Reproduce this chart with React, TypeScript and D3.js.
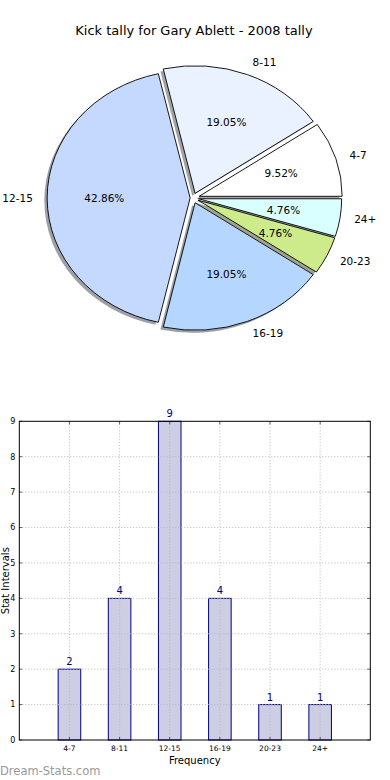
import React, { useEffect, useRef } from 'react';
import * as d3 from 'd3';

const categories = ['4-7', '8-11', '12-15', '16-19', '20-23', '24+'];
const counts = [2, 4, 9, 4, 1, 1];
const yTicks = [0, 1, 2, 3, 4, 5, 6, 7, 8, 9];
const title = 'Kick tally for Gary Ablett - 2008 tally';

const pieColors = ['#ffffff', '#eaf1ff', '#c5d9ff', '#b5d7ff', '#cdeb8b', '#daffff'];
const explode = [0.045, 0.04, 0.02, 0.04, 0.04, 0.04];

const FONT = '"DejaVu Sans", Verdana, sans-serif';

function App() {
    const ref = useRef<SVGSVGElement>(null);

    useEffect(() => {
        const svg = d3.select(ref.current);
        svg.selectAll('*').remove();

        svg.append('text')
            .attr('x', 194).attr('y', 35)
            .attr('text-anchor', 'middle')
            .style('font-size', '13px')
            .text(title);

        // ---- pie (matplotlib style: counterclockwise from 3 o'clock, elliptical axes)
        const cx = 193, cy = 198, rx = 143, ry = 127.5;
        const total = d3.sum(counts);
        const pie = d3.pie<number>().sort(null)
            .startAngle(Math.PI / 2)
            .endAngle(Math.PI / 2 - 2 * Math.PI);
        const arcs = pie(counts);
        const arc = d3.arc<d3.PieArcDatum<number>>().innerRadius(0).outerRadius(rx);

        const offsets = arcs.map((a, i) => {
            const mid = (a.startAngle + a.endAngle) / 2;
            return { mid, dx: Math.sin(mid) * explode[i], dy: -Math.cos(mid) * explode[i] };
        });

        const pieG = svg.append('g');
        const shadow = pieG.append('g')
            .attr('transform', `translate(${cx - 0.02 * rx},${cy + 0.02 * ry}) scale(1,${ry / rx})`);
        shadow.selectAll('path')
            .data(arcs)
            .join('path')
            .attr('transform', (d, i) => `translate(${offsets[i].dx * rx},${offsets[i].dy * rx})`)
            .attr('d', arc)
            .attr('fill', (d, i) => {
                const c = d3.rgb(pieColors[i]);
                return d3.rgb(c.r * 0.3, c.g * 0.3, c.b * 0.3).toString();
            })
            .attr('fill-opacity', 0.5)
            .attr('stroke', 'none');

        const wedges = pieG.append('g')
            .attr('transform', `translate(${cx},${cy}) scale(1,${ry / rx})`);
        wedges.selectAll('path')
            .data(arcs)
            .join('path')
            .attr('transform', (d, i) => `translate(${offsets[i].dx * rx},${offsets[i].dy * rx})`)
            .attr('d', arc)
            .attr('fill', (d, i) => pieColors[i])
            .attr('stroke', '#000')
            .attr('stroke-width', 0.9)
            .attr('vector-effect', 'non-scaling-stroke')
            .attr('stroke-linejoin', 'round');

        arcs.forEach((a, i) => {
            const o = offsets[i];
            const ox = cx + o.dx * rx, oy = cy + o.dy * ry;
            const sx = Math.sin(o.mid), sy = -Math.cos(o.mid);
            svg.append('text')
                .attr('x', ox + 1.1 * rx * sx)
                .attr('y', oy + 1.1 * ry * sy)
                .attr('dy', '0.35em')
                .attr('text-anchor', sx > 0 ? 'start' : 'end')
                .style('font-size', '10.5px')
                .text(categories[i]);
            svg.append('text')
                .attr('x', ox + 0.6 * rx * sx)
                .attr('y', oy + 0.6 * ry * sy)
                .attr('dy', '0.35em')
                .attr('text-anchor', 'middle')
                .style('font-size', '10.5px')
                .text((counts[i] / total * 100).toFixed(2) + '%');
        });

        // ---- bar chart
        const left = 19.3, right = 370.3, top = 421.3, bottom = 740;
        const x = d3.scaleLinear().domain([-1, 6]).range([left, right]);
        const y = d3.scaleLinear().domain([0, 9]).range([bottom, top]);
        const idx = categories.map((c, i) => i);
        const barW = 0.45;

        const grid = svg.append('g')
            .attr('stroke', '#b8b8b8')
            .attr('stroke-width', 1)
            .attr('stroke-dasharray', '1,2');
        grid.selectAll('.vg').data(idx).join('line')
            .attr('class', 'vg')
            .attr('x1', (d) => x(d)).attr('x2', (d) => x(d))
            .attr('y1', top).attr('y2', bottom);
        grid.selectAll('.hg').data(yTicks.slice(1, -1)).join('line')
            .attr('class', 'hg')
            .attr('x1', left).attr('x2', right)
            .attr('y1', (d) => y(d)).attr('y2', (d) => y(d));

        svg.append('g')
            .selectAll('rect')
            .data(counts)
            .join('rect')
            .attr('x', (d, i) => x(i - barW / 2))
            .attr('width', x(barW) - x(0))
            .attr('y', (d) => y(d))
            .attr('height', (d) => bottom - y(d))
            .attr('fill', '#c8c8e0')
            .attr('fill-opacity', 0.9)
            .attr('stroke', '#000080')
            .attr('stroke-width', 1);

        // grid shows through the bars
        grid.raise();

        svg.append('g')
            .selectAll('text')
            .data(counts)
            .join('text')
            .attr('x', (d, i) => x(i))
            .attr('y', (d) => y(d) - 4)
            .attr('text-anchor', 'middle')
            .attr('fill', '#000080')
            .style('font-size', '10px')
            .text((d) => d);

        svg.append('rect')
            .attr('x', left).attr('y', top)
            .attr('width', right - left).attr('height', bottom - top)
            .attr('fill', 'none')
            .attr('stroke', '#000')
            .attr('stroke-width', 1);

        const ticks = svg.append('g').attr('stroke', '#000').attr('stroke-width', 0.6);
        idx.forEach((i) => {
            ticks.append('line').attr('x1', x(i)).attr('x2', x(i)).attr('y1', bottom).attr('y2', bottom - 3);
            ticks.append('line').attr('x1', x(i)).attr('x2', x(i)).attr('y1', top).attr('y2', top + 3);
        });
        yTicks.forEach((t) => {
            ticks.append('line').attr('x1', left).attr('x2', left + 3).attr('y1', y(t)).attr('y2', y(t));
            ticks.append('line').attr('x1', right).attr('x2', right - 3).attr('y1', y(t)).attr('y2', y(t));
        });

        svg.append('g')
            .selectAll('text')
            .data(yTicks)
            .join('text')
            .attr('x', left - 4)
            .attr('y', (d) => y(d))
            .attr('dy', '0.35em')
            .attr('text-anchor', 'end')
            .style('font-size', '8px')
            .text((d) => d);

        svg.append('g')
            .selectAll('text')
            .data(categories)
            .join('text')
            .attr('x', (d, i) => x(i))
            .attr('y', bottom + 11)
            .attr('text-anchor', 'middle')
            .style('font-size', '7.5px')
            .text((d) => d);

        svg.append('text')
            .attr('x', (left + right) / 2).attr('y', bottom + 24)
            .attr('text-anchor', 'middle')
            .style('font-size', '10px')
            .text('Frequency');

        svg.append('text')
            .attr('transform', `translate(8.5,${(top + bottom) / 2}) rotate(-90)`)
            .attr('text-anchor', 'middle')
            .style('font-size', '10px')
            .text('Stat Intervals');

        svg.append('text')
            .attr('x', 0).attr('y', 775)
            .attr('fill', '#999')
            .style('font-size', '11.5px')
            .text('Dream-Stats.com');
    }, []);

    return (
        <svg ref={ref} width={390} height={780}
            style={{ position: 'absolute', left: 0, top: 0, fontFamily: FONT, background: '#fff' }} />
    );
}

export default App;
